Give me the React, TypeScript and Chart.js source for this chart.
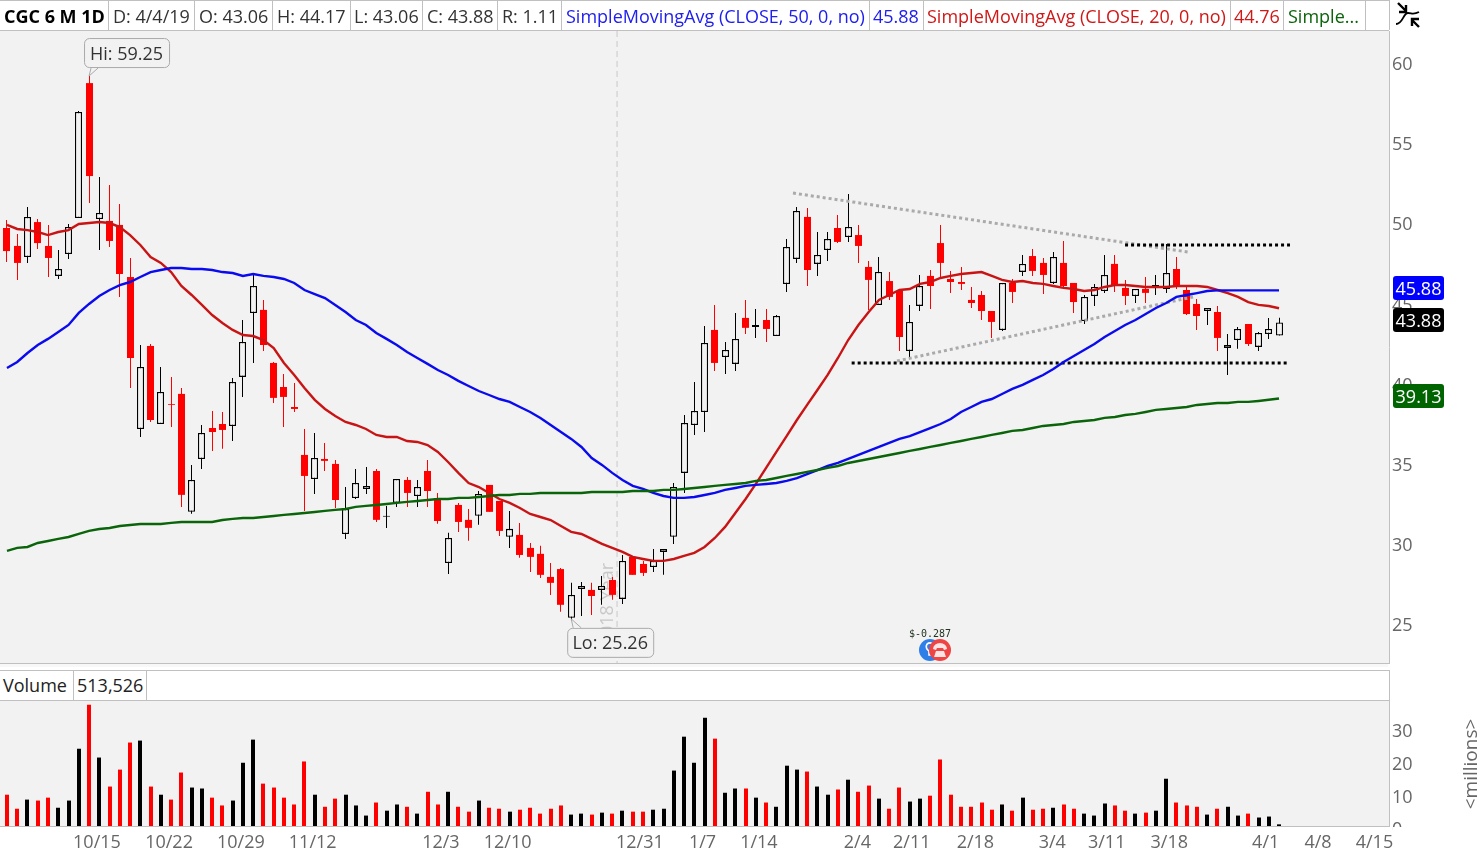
import React, { useEffect, useRef } from "react";
import { Chart, registerables } from "chart.js";

Chart.register(...registerables);

const opens = [
  49.77, 48.65, 47.96, 50.14, 48.65, 46.78, 48.15, 50.39, 58.81, 50.33,
  50.21, 49.96, 46.71, 37.23, 42.41, 37.54, 38.79, 39.42, 32.06, 35.36,
  37.29, 37.54, 37.42, 40.48, 44.47, 44.66, 41.35, 39.85, 38.6, 35.61,
  34.11, 35.36, 35.05, 30.68, 32.92, 33.49, 34.61, 31.75, 32.62, 34.05,
  33.05, 34.61, 32.92, 28.87, 32.49, 31.56, 31.81, 33.74, 32.74, 30.5,
  30.62, 29.81, 29.44, 28.0, 28.49, 25.45, 27.25, 27.19, 27.19, 27.81,
  26.63, 29.25, 28.81, 28.62, 29.56, 30.5, 34.49, 37.48, 38.29, 43.41,
  41.72, 41.29, 44.16, 43.6, 44.03, 43.03, 46.28, 47.84, 50.46, 47.53,
  48.4, 49.77, 49.21, 49.33, 47.34, 44.97, 46.46, 45.84, 42.1, 44.91,
  46.78, 48.83, 46.59, 46.4, 45.28, 45.59, 44.59, 43.41, 46.34, 47.03,
  48.02, 47.59, 46.34, 47.59, 46.34, 43.97, 45.53, 45.84, 47.53, 46.03,
  45.53, 45.97, 46.15, 45.97, 47.21, 45.9, 45.03, 44.59, 44.53, 42.29,
  42.78, 43.78, 42.35, 43.16, 43.06,
];
const closes = [
  48.33, 47.59, 50.46, 48.83, 47.9, 47.21, 49.83, 57.01, 53.01, 50.71,
  48.96, 46.9, 41.66, 41.1, 37.79, 39.54, 38.74, 33.12, 34.05, 36.98,
  37.04, 37.17, 40.16, 42.66, 46.15, 42.47, 39.17, 39.23, 38.48, 34.3,
  35.42, 35.24, 32.8, 32.24, 33.86, 33.68, 31.56, 31.81, 34.11, 33.24,
  33.61, 33.36, 31.49, 30.43, 31.43, 31.06, 33.18, 32.06, 30.87, 31.0,
  29.37, 29.25, 28.13, 27.63, 26.26, 26.88, 27.44, 26.81, 27.44, 26.88,
  29.0, 28.13, 28.25, 29.0, 29.75, 33.61, 37.6, 38.35, 42.6, 41.35,
  42.16, 42.85, 43.54, 43.72, 43.47, 44.28, 48.58, 50.83, 47.15, 48.09,
  49.08, 48.9, 49.83, 48.65, 46.53, 47.03, 45.47, 42.97, 43.91, 46.15,
  46.15, 47.59, 46.4, 46.28, 45.09, 44.59, 43.91, 46.34, 45.78, 47.53,
  47.09, 46.84, 47.96, 46.15, 45.15, 45.47, 46.09, 46.84, 46.15, 45.53,
  45.97, 45.72, 46.22, 46.96, 46.09, 44.4, 44.28, 44.78, 42.91, 42.47,
  43.47, 42.53, 43.22, 43.47, 43.88,
];
const highs = [
  50.27, 49.4, 51.08, 50.33, 49.96, 48.4, 50.02, 57.07, 59.25, 52.95,
  52.45, 51.27, 47.9, 42.47, 42.53, 41.1, 40.48, 39.79, 34.99, 37.48,
  38.35, 38.29, 40.41, 44.03, 46.9, 45.28, 41.41, 40.66, 40.1, 37.23,
  36.98, 36.35, 35.3, 33.61, 34.74, 34.86, 34.74, 32.43, 34.11, 34.24,
  34.05, 35.3, 33.24, 30.75, 32.62, 32.24, 33.36, 33.74, 32.74, 32.12,
  31.37, 30.12, 29.94, 28.87, 28.56, 27.63, 27.69, 27.63, 28.06, 28.0,
  29.37, 29.25, 29.0, 29.75, 29.75, 33.86, 38.1, 40.16, 43.66, 44.97,
  42.66, 44.47, 45.28, 44.72, 44.72, 44.34, 49.08, 51.08, 51.02, 49.52,
  49.52, 50.58, 51.89, 49.96, 47.71, 47.96, 47.03, 45.9, 44.97, 46.84,
  47.15, 49.96, 47.09, 47.34, 46.09, 45.84, 44.59, 46.34, 46.59, 48.09,
  48.46, 47.9, 48.27, 48.96, 46.34, 45.59, 46.28, 48.09, 48.09, 46.53,
  45.97, 46.71, 46.84, 48.77, 47.96, 46.09, 45.34, 44.78, 44.91, 43.16,
  43.6, 43.78, 43.28, 44.15, 44.17,
];
const lows = [
  47.65, 46.53, 47.59, 48.46, 46.71, 46.59, 47.84, 50.39, 51.33, 48.4,
  48.59, 45.47, 39.79, 36.73, 37.67, 37.54, 37.36, 32.37, 31.94, 34.74,
  35.86, 35.99, 36.48, 39.23, 41.35, 42.1, 38.85, 37.36, 38.29, 32.11,
  33.18, 34.61, 32.3, 30.37, 32.86, 33.18, 31.43, 31.06, 32.37, 32.37,
  32.37, 32.37, 31.31, 28.19, 30.81, 30.25, 31.25, 32.06, 30.56, 29.81,
  29.19, 28.31, 27.94, 26.88, 25.82, 25.26, 25.57, 25.63, 26.26, 26.57,
  26.31, 28.13, 28.06, 28.31, 28.13, 30.06, 33.24, 36.85, 37.04, 40.85,
  40.66, 40.85, 43.16, 42.91, 42.66, 43.03, 45.78, 47.59, 46.15, 46.78,
  47.71, 48.83, 48.9, 47.59, 44.66, 44.97, 45.28, 42.1, 41.72, 44.59,
  44.72, 46.65, 45.72, 45.9, 44.78, 44.03, 42.91, 43.34, 45.09, 46.78,
  46.78, 45.65, 46.28, 46.03, 44.47, 43.78, 44.91, 45.72, 45.78, 44.97,
  45.09, 45.09, 45.59, 45.72, 45.97, 44.34, 43.41, 43.72, 42.1, 40.6,
  42.23, 42.41, 42.1, 42.85, 43.06,
];
const sma20 = [
  49.96, 49.71, 49.64, 49.52, 49.33, 49.52, 49.64, 50.02, 50.08, 50.14,
  50.08, 49.83, 49.33, 48.71, 47.96, 47.59, 47.02, 46.15, 45.59, 44.97,
  44.34, 43.84, 43.41, 43.09, 43.03, 42.78, 42.28, 41.35, 40.6, 39.79,
  39.05, 38.48, 38.04, 37.67, 37.48, 37.23, 36.86, 36.73, 36.73, 36.48,
  36.42, 36.23, 35.8, 35.17, 34.49, 33.86, 33.61, 33.24, 32.86, 32.62,
  32.3, 31.93, 31.74, 31.55, 31.18, 30.81, 30.68, 30.37, 30.06, 29.81,
  29.56, 29.25, 29.12, 29.0, 29.0, 29.12, 29.31, 29.5, 29.87, 30.43,
  31.12, 31.99, 32.86, 33.8, 34.8, 35.8, 36.79, 37.79, 38.73, 39.66,
  40.6, 41.66, 42.78, 43.72, 44.53, 45.28, 45.59, 45.9, 45.96, 46.28,
  46.4, 46.65, 46.78, 46.9, 46.96, 47.02, 46.78, 46.53, 46.4, 46.46,
  46.34, 46.28, 46.15, 46.03, 45.96, 45.84, 45.9, 46.09, 46.21, 46.21,
  46.15, 46.09, 46.09, 46.09, 46.15, 46.15, 46.15, 46.09, 45.9, 45.71,
  45.47, 45.15, 44.97, 44.9, 44.76,
];
const sma50 = [
  41.04, 41.41, 41.97, 42.47, 42.85, 43.28, 43.72, 44.47, 45.03, 45.53,
  45.9, 46.21, 46.4, 46.71, 47.02, 47.15, 47.27, 47.27, 47.21, 47.21,
  47.15, 47.02, 46.96, 46.78, 46.9, 46.78, 46.71, 46.59, 46.34, 45.9,
  45.65, 45.4, 44.97, 44.53, 44.03, 43.72, 43.22, 42.85, 42.47, 42.03,
  41.66, 41.29, 40.91, 40.6, 40.23, 39.91, 39.6, 39.35, 39.1, 38.92,
  38.6, 38.29, 37.92, 37.48, 37.04, 36.61, 36.11, 35.42, 34.99, 34.49,
  34.05, 33.68, 33.49, 33.24, 33.05, 32.93, 32.93, 32.99, 33.11, 33.24,
  33.43, 33.55, 33.68, 33.74, 33.8, 33.86, 33.99, 34.17, 34.42, 34.67,
  34.92, 35.11, 35.36, 35.61, 35.86, 36.11, 36.36, 36.61, 36.79, 37.04,
  37.29, 37.54, 37.85, 38.29, 38.6, 38.92, 39.1, 39.41, 39.73, 39.98,
  40.29, 40.6, 40.97, 41.41, 41.78, 42.16, 42.53, 42.97, 43.34, 43.72,
  44.03, 44.4, 44.78, 45.09, 45.47, 45.59, 45.71, 45.84, 45.88, 45.88,
  45.88, 45.88, 45.88, 45.88, 45.88,
];
const sma200 = [
  29.62, 29.81, 29.87, 30.12, 30.24, 30.37, 30.49, 30.68, 30.87, 30.99,
  31.05, 31.18, 31.24, 31.3, 31.3, 31.3, 31.37, 31.43, 31.43, 31.43,
  31.43, 31.55, 31.62, 31.68, 31.68, 31.74, 31.8, 31.87, 31.93, 31.99,
  32.05, 32.12, 32.18, 32.24, 32.37, 32.43, 32.49, 32.55, 32.62, 32.68,
  32.74, 32.8, 32.86, 32.86, 32.93, 32.93, 32.99, 33.05, 33.11, 33.11,
  33.18, 33.18, 33.24, 33.24, 33.24, 33.24, 33.24, 33.3, 33.3, 33.3,
  33.3, 33.36, 33.36, 33.36, 33.43, 33.43, 33.49, 33.55, 33.61, 33.68,
  33.74, 33.8, 33.86, 33.99, 34.05, 34.17, 34.3, 34.42, 34.55, 34.67,
  34.8, 34.92, 35.11, 35.23, 35.36, 35.48, 35.61, 35.73, 35.86, 35.98,
  36.11, 36.23, 36.36, 36.48, 36.61, 36.73, 36.86, 36.98, 37.11, 37.17,
  37.29, 37.42, 37.48, 37.54, 37.67, 37.73, 37.79, 37.92, 37.98, 38.1,
  38.17, 38.29, 38.42, 38.48, 38.54, 38.6, 38.73, 38.79, 38.85, 38.85,
  38.92, 38.92, 38.98, 39.05, 39.13,
];
const volumes = [
  9.6, 5.3, 8.1, 7.8, 8.7, 5.6, 7.8, 23.7, 37.2, 21,
  12.1, 17.3, 25.6, 26.2, 12.1, 9.6, 8.1, 16.4, 11.8, 11.5,
  8.7, 6.3, 7.8, 19.4, 26.5, 13, 11.8, 8.7, 6.6, 19.8,
  9.6, 5.9, 8.4, 9.6, 6.3, 3.2, 7.2, 4.7, 6.6, 5.9,
  3.8, 10.5, 6.6, 10.5, 5.9, 4.4, 7.8, 5.6, 5.3, 4.4,
  5, 5.6, 3.8, 5.3, 6.3, 3.5, 3.8, 3.5, 4.1, 3.8,
  4.7, 4.4, 4.4, 5, 5.3, 17, 27.4, 19.4, 33.2, 26.8,
  10.2, 11.5, 11.5, 8.7, 7.2, 5.9, 18.5, 17.3, 16.7, 12.1,
  9.6, 11.2, 14.2, 10.5, 12.4, 8.4, 5.3, 11.8, 7.5, 8.4,
  9.3, 20.4, 9.6, 5.9, 5.9, 7.2, 5, 6.6, 4.7, 8.7,
  5, 5.3, 5.6, 6.6, 5.3, 3.8, 3.2, 6.9, 6.3, 4.7,
  3.8, 4.1, 4.7, 14.5, 7.2, 6.3, 5.9, 3.5, 5.3, 5.9,
  3.2, 3.8, 2.6, 2.9, 0.51,
];
const volumeColors =
  "rrkrrkkkrkrrrkrkrrkkrrkkkrrrrrkrrkkkrkkrkrrkrrkrr" +
  "krrrrrkkrkrkrrkkkkkkrkkrkrkkkrkkrkrrkrrkkrrrrrrr" +
  "krkrrkrrkkkrrkrkkrrrkrkkrkkk";

const tickPositions = [8.77, 15.8, 22.8, 29.8, 42.3, 48.8, 61.7, 67.8, 73.3, 82.9, 88.2, 94.4, 101.9, 107.2, 113.3, 122.7, 127.8, 133.3];
const tickLabels = ["10/15", "10/22", "10/29", "11/12", "12/3", "12/10", "12/31", "1/7", "1/14", "2/4", "2/11", "2/18", "3/4", "3/11", "3/18", "4/1", "4/8", "4/15"];

const resistanceLevel = [{ x: 108.99, y: 48.71 }, { x: 125.07, y: 48.71 }];
const supportLevel = [{ x: 82.34, y: 41.35 }, { x: 124.75, y: 41.35 }];
const upperTrend = [{ x: 76.62, y: 51.95 }, { x: 115.13, y: 48.27 }];
const lowerTrend = [{ x: 86.76, y: 41.47 }, { x: 115.62, y: 45.47 }];
const yearBoundary = [{ x: 59.47, y: 62.06 }, { x: 59.47, y: 22.63 }];

const FONT = '"Open Sans", sans-serif';
const RED = "#ff0000";
const PANE = "#f2f2f2";
const LINE = "#c0c0c0";
const TICK = "#666666";

const xScale = { type: "linear", min: -0.68, max: 134.72, offset: false };

const fitRightAxis = (s: any) => {
  s.width = 92;
  s.paddingTop = 0;
  s.paddingBottom = 0;
};

const snapBars = {
  id: "snapBars",
  afterDatasetsUpdate(chart: any) {
    chart.data.datasets.forEach((ds: any, i: number) => {
      if (ds.type === "line") return;
      chart.getDatasetMeta(i).data.forEach((b: any) => {
        b.x = ds.snapWhole ? Math.round(b.x) : Math.floor(b.x) + 0.5;
      });
    });
  },
};

const paneFill = {
  id: "paneFill",
  beforeDraw(chart: any) {
    const { ctx, chartArea: a } = chart;
    ctx.save();
    ctx.fillStyle = PANE;
    ctx.fillRect(a.left, a.top, a.right - a.left, a.bottom - a.top);
    ctx.restore();
  },
};

const yearText = {
  id: "yearText",
  beforeDatasetsDraw(chart: any) {
    const { ctx, scales } = chart;
    ctx.save();
    ctx.translate(scales.x.getPixelForValue(59.47) - 9, 563);
    ctx.rotate(-Math.PI / 2);
    ctx.font = `18px ${FONT}`;
    ctx.fillStyle = "#c8c8c8";
    ctx.textAlign = "right";
    ctx.textBaseline = "middle";
    ctx.fillText("2018 Year", 0, 0);
    ctx.restore();
  },
};

function callout(ctx: any, text: string, bx: number, by: number, bw: number, bh: number, tx: number, ty: number, baseA: number, baseB: number, edge: number) {
  ctx.save();
  ctx.beginPath();
  ctx.roundRect(bx + 0.5, by + 0.5, bw, bh, 5);
  ctx.fillStyle = PANE;
  ctx.fill();
  ctx.strokeStyle = "#aaaaaa";
  ctx.lineWidth = 1;
  ctx.stroke();
  ctx.beginPath();
  ctx.moveTo(baseA, edge);
  ctx.lineTo(tx, ty);
  ctx.lineTo(baseB, edge);
  ctx.fillStyle = PANE;
  ctx.fill();
  ctx.stroke();
  ctx.font = `18px ${FONT}`;
  ctx.fillStyle = "#333333";
  ctx.textAlign = "center";
  ctx.textBaseline = "middle";
  ctx.fillText(text, bx + bw / 2, by + bh / 2 + 2);
  ctx.restore();
}

const callouts = {
  id: "callouts",
  afterDatasetsDraw(chart: any) {
    const { ctx, scales } = chart;
    const hiX = scales.x.getPixelForValue(8);
    const hiY = scales.y.getPixelForValue(59.25);
    callout(ctx, "Hi: 59.25", hiX - 5, hiY - 38, 85, 29, hiX, hiY, hiX + 2, hiX + 9, hiY - 8);
    const loX = scales.x.getPixelForValue(55);
    const loY = scales.y.getPixelForValue(25.26);
    callout(ctx, "Lo: 25.26", loX - 4, loY + 7, 86, 29, loX, loY - 2, loX + 2, loX + 10, loY + 7);
  },
};

const PLUGINS = { legend: { display: false }, tooltip: { enabled: false } };

function line(data: any[], color: string, order: number, width = 2.4, dash: number[] = []) {
  return {
    type: "line",
    data,
    borderColor: color,
    borderWidth: width,
    borderDash: dash,
    pointRadius: 0,
    tension: 0,
    order,
    parsing: { xAxisKey: "x", yAxisKey: "y" },
  };
}

const asPoints = (values: number[]) => values.map((y, x) => ({ x, y }));

function PriceChart() {
  const ref = useRef<HTMLCanvasElement>(null);
  useEffect(() => {
    const chart = new Chart(ref.current as any, {
      type: "bar",
      data: {
        datasets: [
          line(asPoints(sma200), "#0a640a", 1),
          line(asPoints(sma50), "#0a0aee", 1),
          line(asPoints(sma20), "#c81414", 1),
          line(resistanceLevel, "#000000", 2, 3, [3, 3]),
          line(supportLevel, "#000000", 2, 3, [3, 3]),
          line(upperTrend, "#aaaaaa", 2, 3, [3, 3]),
          line(lowerTrend, "#aaaaaa", 2, 3, [3, 3]),
          {
            type: "bar",
            data: opens.map((o, i) => ({ x: i, y: [Math.min(o, closes[i]), Math.max(o, closes[i])] })),
            barThickness: 7,
            grouped: false,
            inflateAmount: 0,
            borderSkipped: false,
            backgroundColor: (c: any) => (closes[c.dataIndex] < opens[c.dataIndex] ? RED : PANE),
            borderColor: (c: any) => (closes[c.dataIndex] < opens[c.dataIndex] ? RED : "#000000"),
            borderWidth: (c: any) => (closes[c.dataIndex] < opens[c.dataIndex] ? 0 : 1.3),
            order: 3,
          },
          {
            type: "bar",
            data: highs.map((h, i) => ({ x: i, y: [lows[i], h] })),
            barThickness: 1,
            grouped: false,
            inflateAmount: 0,
            backgroundColor: (c: any) => (closes[c.dataIndex] < opens[c.dataIndex] ? RED : "#000000"),
            order: 4,
          },
          line(yearBoundary, "#c8c8c8", 5, 1, [6, 4]),
        ],
      },
      options: {
        responsive: false,
        animation: false,
        events: [],
        layout: { autoPadding: false, padding: { top: 31, bottom: 1, left: 0, right: 0 } },
        plugins: PLUGINS,
        scales: {
          x: { ...xScale, display: false },
          y: {
            position: "right",
            min: 22.63,
            max: 62.06,
            afterFit: fitRightAxis,
            grid: { display: false, drawTicks: false },
            border: { color: LINE },
            ticks: {
              stepSize: 5,
              includeBounds: false,
              color: TICK,
              padding: 3,
              labelOffset: 1,
              font: { family: FONT, size: 18 },
            },
          },
        },
      },
      plugins: [paneFill, snapBars, yearText, callouts],
    } as any);
    return () => chart.destroy();
  }, []);
  return <canvas ref={ref} width={1481} height={664} style={{ position: "absolute", left: 0, top: 0 }} />;
}

function VolumeChart() {
  const ref = useRef<HTMLCanvasElement>(null);
  useEffect(() => {
    const chart = new Chart(ref.current as any, {
      type: "bar",
      data: {
        datasets: [
          {
            data: volumes.map((y, x) => ({ x, y })),
            barThickness: 4,
            inflateAmount: 0,
            grouped: false,
            snapWhole: true,
            backgroundColor: (c: any) => (volumeColors[c.dataIndex] === "r" ? RED : "#000000"),
          } as any,
        ],
      },
      options: {
        responsive: false,
        animation: false,
        events: [],
        layout: { autoPadding: false, padding: { top: 5, bottom: 0, left: 0, right: 0 } },
        plugins: PLUGINS,
        scales: {
          x: {
            ...xScale,
            afterFit: (s: any) => { s.height = 27; s.paddingLeft = 0; s.paddingRight = 0; },
            afterBuildTicks: (s: any) => { s.ticks = tickPositions.map((value) => ({ value })); },
            grid: { display: false, drawTicks: false },
            border: { color: LINE },
            ticks: {
              autoSkip: false,
              maxRotation: 0,
              minRotation: 0,
              padding: 6,
              color: TICK,
              font: { family: FONT, size: 18 },
              callback: (_v: any, i: number) => tickLabels[i],
            },
          },
          y: {
            position: "right",
            min: 0,
            max: 38.65,
            afterFit: fitRightAxis,
            grid: { display: false, drawTicks: false },
            border: { color: LINE },
            ticks: {
              stepSize: 10,
              includeBounds: false,
              color: TICK,
              padding: 3,
              labelOffset: 4,
              font: { family: FONT, size: 18 },
            },
          },
        },
      },
      plugins: [paneFill, snapBars],
    } as any);
    return () => chart.destroy();
  }, []);
  return <canvas ref={ref} width={1481} height={158} style={{ position: "absolute", left: 0, top: 695 }} />;
}

const headerCells: [string, number, string, boolean?][] = [
  ["CGC 6 M 1D", 4, "#000000", true],
  ["D: 4/4/19", 113, "#333333"],
  ["O: 43.06", 199, "#333333"],
  ["H: 44.17", 277, "#333333"],
  ["L: 43.06", 354, "#333333"],
  ["C: 43.88", 427, "#333333"],
  ["R: 1.11", 502, "#333333"],
  ["SimpleMovingAvg (CLOSE, 50, 0, no)", 566, "#2020ee"],
  ["45.88", 873, "#2020ee"],
  ["SimpleMovingAvg (CLOSE, 20, 0, no)", 927, "#d01818"],
  ["44.76", 1234, "#d01818"],
  ["Simple...", 1288, "#0a640a"],
];
const headerDividers = [108, 194, 272, 350, 422, 497, 561, 869, 923, 1230, 1283, 1365, 1389];
const bubbles: [string, number, string][] = [
  ["45.88", 276, "#0000ff"],
  ["43.88", 308, "#000000"],
  ["39.13", 384, "#006400"],
];

const abs = (left: number, top: number, width: number, height: number, extra: any = {}) => ({
  position: "absolute" as const, left, top, width, height, ...extra,
});

export default function App() {
  return (
    <div style={{ position: "fixed", left: 0, top: 0, width: 1481, height: 853, background: "#ffffff", overflow: "hidden", fontFamily: FONT, fontSize: 18 }}>
      <PriceChart />
      <VolumeChart />

      <div style={abs(0, 0, 1389, 1, { background: LINE })} />
      <div style={abs(0, 30, 1389, 1, { background: LINE })} />
      {headerDividers.map((x) => (
        <div key={x} style={abs(x, 0, 1, 30, { background: LINE })} />
      ))}
      {headerCells.map(([t, x, color, bold]) => (
        <div key={t + x} style={{ position: "absolute", left: x, top: 2, lineHeight: "28px", whiteSpace: "nowrap", color, fontWeight: bold ? 700 : 400 }}>{t}</div>
      ))}

      <svg style={abs(1394, 2, 28, 28)} viewBox="0 0 28 28">
        <path d="M2 20 C9 20 9 9 14 9 C18 9 19 11 25 8" fill="none" stroke="#000" strokeWidth="1.8" transform="translate(0,2)" />
        <path d="M4 1 L12 9 M12 3 L12 10 L5 10" fill="none" stroke="#000" strokeWidth="2.4" />
        <path d="M25 25 L18 18 M18 24 L18 17 L25 17" fill="none" stroke="#000" strokeWidth="2.4" />
      </svg>

      <div style={abs(0, 663, 1390, 1, { background: LINE })} />
      <div style={abs(0, 664, 1388, 3, { background: "#f8f8f8" })} />

      <div style={abs(0, 670, 1389, 31, { background: "#ffffff", borderTop: `1px solid ${LINE}`, borderBottom: `1px solid ${LINE}`, boxSizing: "border-box" })} />
      <div style={abs(1389, 670, 1, 30, { background: LINE })} />
      <div style={abs(73, 670, 1, 30, { background: LINE })} />
      <div style={abs(146, 670, 1, 30, { background: LINE })} />
      <div style={{ position: "absolute", left: 3, top: 671, lineHeight: "29px", color: "#222222" }}>Volume</div>
      <div style={{ position: "absolute", left: 77, top: 671, lineHeight: "29px", color: "#222222" }}>513,526</div>

      <div style={abs(1393, 827, 28, 13, { background: "#ffffff" })} />
      <div style={{ position: "absolute", left: 1470, top: 764, color: TICK, fontSize: 19, whiteSpace: "nowrap", transform: "translate(-50%,-50%) rotate(-90deg)" }}>{"<millions>"}</div>

      {bubbles.map(([t, y, c]) => (
        <div key={t} style={abs(1393, y, 51, 24, { background: c, color: "#ffffff", borderRadius: 3, textAlign: "center", lineHeight: "24px" })}>{t}</div>
      ))}

      <div style={{ position: "absolute", left: 909, top: 628, fontFamily: '"DejaVu Sans Mono", monospace', fontSize: 10, lineHeight: "12px", color: "#223322" }}>$-0.287</div>
      <svg style={abs(918, 638, 34, 24)} viewBox="0 0 34 24">
        <circle cx="12" cy="12" r="11" fill="#2f7fe8" />
        <path d="M9 6 a5 5 0 0 1 7 7 l0 4 l-5 0 l0 -4 a5 5 0 0 1 -2 -7" fill="none" stroke="#ffffff" strokeWidth="1.6" />
        <circle cx="22" cy="12" r="11" fill="#ee4444" />
        <path d="M15 11 a7 6 0 0 1 14 0 l-3 1 l-1 -2 l-6 0 l-1 2 Z M18 13 l8 0 l2 6 l-12 0 Z" fill="#ffffff" opacity="0.85" />
      </svg>
    </div>
  );
}
